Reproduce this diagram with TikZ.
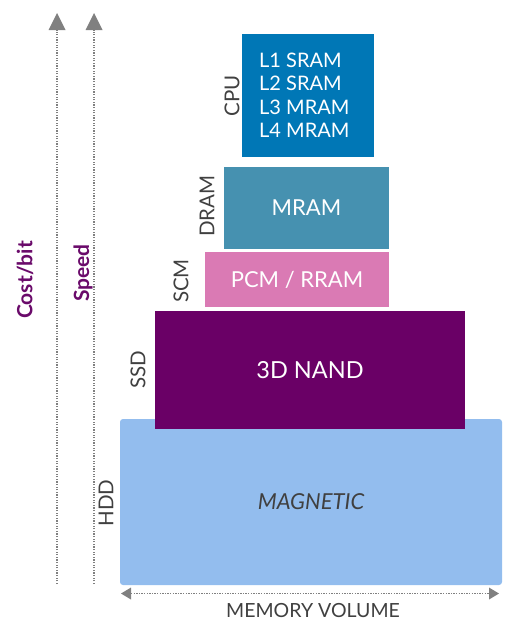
\documentclass[tikz,border=0pt]{standalone}
\usepackage{fontspec}
\setmainfont{Lato}
\usetikzlibrary{arrows.meta}
\definecolor{cpublue}{RGB}{0,119,182}
\definecolor{dramblue}{RGB}{70,145,176}
\definecolor{scmpink}{RGB}{218,122,180}
\definecolor{ssdpurple}{RGB}{106,0,102}
\definecolor{hddblue}{RGB}{147,189,238}
\definecolor{labelgray}{RGB}{64,64,64}
\definecolor{axisgray}{RGB}{128,128,128}
\definecolor{axispurple}{RGB}{106,10,106}
\tikzset{
  membox/.style={draw=none, inner sep=0pt, font=\fontsize{22}{26}\selectfont, text=white},
  sidelabel/.style={rotate=90, inner sep=0pt, text=labelgray, font=\fontsize{20.5}{24}\selectfont},
  axisline/.style={draw=axisgray, line width=1.5pt, dash pattern=on 1.3pt off 1.3pt},
  axislabel/.style={rotate=90, inner sep=0pt, text=axispurple, font=\bfseries\fontsize{21}{24}\selectfont}
}
\begin{document}
\begin{tikzpicture}[x=1pt,y=-1pt]
\useasboundingbox (0,0) rectangle (528,637);
% boxes
\node[membox, fill=hddblue, rounded corners=3pt, minimum width=382pt, minimum height=166pt, text=labelgray, font=\itshape\fontsize{22}{26}\selectfont] (hdd) at (311,502) {MAGNETIC};
\node[membox, fill=ssdpurple, minimum width=310pt, minimum height=118pt, font=\fontsize{23.5}{26}\selectfont] (ssd) at (310,370) {3D NAND};
\node[membox, fill=scmpink, minimum width=184pt, minimum height=55pt] (scm) at (297,279.5) {PCM / RRAM};
\node[membox, fill=dramblue, minimum width=165pt, minimum height=82pt] (dram) at (306.5,208) {MRAM};
\node[membox, fill=cpublue, minimum width=132pt, minimum height=123pt] (cpu) at (308,95.5) {};
\node[membox, align=left, font=\fontsize{20}{23.5}\selectfont, anchor=west] (cputext) at (259,95.5) {L1 SRAM\\L2 SRAM\\L3 MRAM\\L4 MRAM};
% side labels
\node[sidelabel] (lcpu) at (232,95.5) {CPU};
\node[sidelabel] (ldram) at (207,206) {DRAM};
\node[sidelabel] (lscm) at (181,281) {SCM};
\node[sidelabel] (lssd) at (138,370) {SSD};
\node[sidelabel] (lhdd) at (106,503) {HDD};
% vertical axes
\coordinate (c0) at (57,584);
\coordinate (c1) at (57,13);
\coordinate (s0) at (94,584);
\coordinate (s1) at (94,13);
\draw[axisline] (c0) -- (57,30);
\draw[axisline] (s0) -- (94,30);
\fill[axisgray] (c1) -- (48.5,30) -- (65.5,30) -- cycle;
\fill[axisgray] (s1) -- (85.5,30) -- (102.5,30) -- cycle;
\node[axislabel] (costbit) at (25,280) {Cost/bit};
\node[axislabel] (speed) at (83,273) {Speed};
% horizontal axis
\coordinate (h0) at (121,593.5);
\coordinate (h1) at (499,593.5);
\draw[axisline] (131,593.5) -- (489,593.5);
\fill[axisgray] (h0) -- (131,587.5) -- (131,599.5) -- cycle;
\fill[axisgray] (h1) -- (489,587.5) -- (489,599.5) -- cycle;
\node[inner sep=0pt, text=labelgray, font=\fontsize{19.5}{24}\selectfont] (vol) at (313,611) {MEMORY VOLUME};
\end{tikzpicture}
\end{document}
